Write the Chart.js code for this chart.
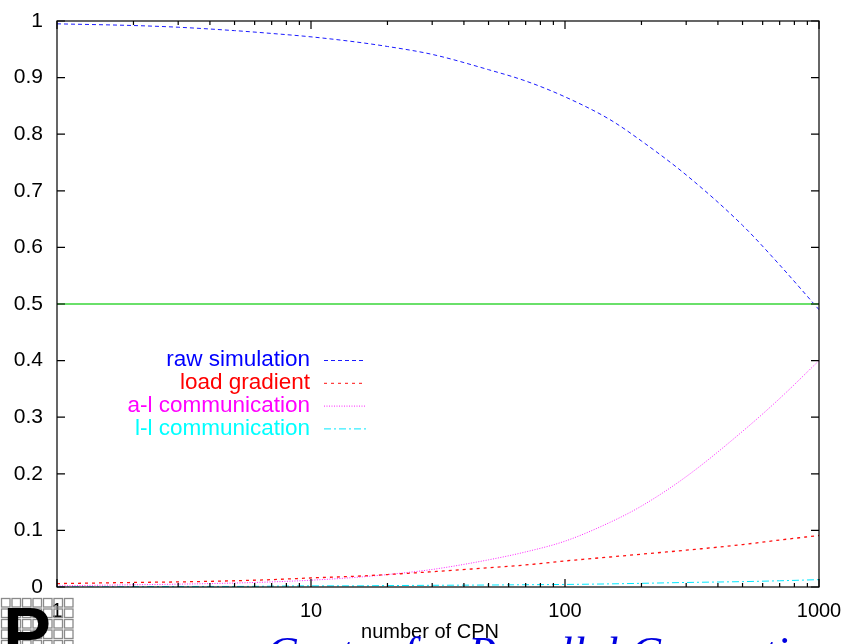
<!DOCTYPE html>
<html>
<head>
<meta charset="utf-8">
<script src="https://cdn.jsdelivr.net/npm/chart.js@4"></script>
<style>
  html, body { margin: 0; padding: 0; background: #fff; }
  canvas { display: block; }
</style>
</head>
<body>
<canvas id="chart" width="846" height="644"></canvas>
<script>
// number of CPN (x values shared by all curves)
const cpn = [1, 2, 3, 5, 7, 10, 15, 20, 30, 50, 70, 100, 150, 200, 300, 500, 700, 1000];

const rawSimulation = [0.995, 0.992, 0.989, 0.983, 0.978, 0.972, 0.963, 0.955, 0.941, 0.914, 0.894, 0.866, 0.826, 0.788, 0.728, 0.639, 0.569, 0.490];
const loadGradient = [0.006, 0.008, 0.009, 0.011, 0.013, 0.016, 0.019, 0.022, 0.027, 0.034, 0.039, 0.046, 0.053, 0.058, 0.065, 0.075, 0.083, 0.091];
const alCommunication = [0.002, 0.004, 0.005, 0.007, 0.009, 0.012, 0.017, 0.022, 0.031, 0.048, 0.062, 0.081, 0.114, 0.143, 0.195, 0.275, 0.333, 0.400];
const llCommunication = [0.000, 0.0005, 0.001, 0.001, 0.0015, 0.002, 0.002, 0.0025, 0.003, 0.0035, 0.004, 0.0045, 0.0055, 0.0065, 0.008, 0.0095, 0.011, 0.013];
const halfLine = [0.5, 0.5];
const halfLineX = [1, 1000];

const xTickLabels = [1, 10, 100, 1000];
const xMinorTicks = [2, 3, 4, 5, 6, 7, 8, 9, 20, 30, 40, 50, 60, 70, 80, 90, 200, 300, 400, 500, 600, 700, 800, 900];

const pts = (xs, ys) => xs.map((x, i) => ({ x: x, y: ys[i] }));

const series = [
  { label: 'raw simulation', color: '#1a1aff', text: '#0000ff', dash: [4, 3], data: rawSimulation },
  { label: 'load gradient', color: '#ff1010', text: '#ff0000', dash: [3, 4], data: loadGradient },
  { label: 'a-l communication', color: '#ff20ff', text: '#ff00ff', dash: [1, 1.5], data: alCommunication },
  { label: 'l-l communication', color: '#00e8ff', text: '#00ffff', dash: [7, 3, 2, 3], data: llCommunication },
];

const font = { family: '"Liberation Sans", Arial, sans-serif', size: 21 };

// gnuplot-like frame, inward ticks, legend and page decorations
const decorations = {
  id: 'decorations',
  afterDraw(chart) {
    const { ctx, chartArea: a, scales: { x, y } } = chart;
    ctx.save();
    ctx.strokeStyle = '#000';
    ctx.lineWidth = 1.2;
    ctx.strokeRect(a.left, a.top, a.right - a.left, a.bottom - a.top);

    ctx.beginPath();
    y.ticks.forEach(t => {
      const py = y.getPixelForValue(t.value);
      ctx.moveTo(a.left, py); ctx.lineTo(a.left + 8, py);
      ctx.moveTo(a.right, py); ctx.lineTo(a.right - 8, py);
    });
    xTickLabels.forEach(v => {
      const px = x.getPixelForValue(v);
      ctx.moveTo(px, a.bottom); ctx.lineTo(px, a.bottom - 8);
      ctx.moveTo(px, a.top); ctx.lineTo(px, a.top + 8);
    });
    xMinorTicks.forEach(v => {
      const px = x.getPixelForValue(v);
      ctx.moveTo(px, a.bottom); ctx.lineTo(px, a.bottom - 4);
      ctx.moveTo(px, a.top); ctx.lineTo(px, a.top + 4);
    });
    ctx.stroke();

    // legend
    ctx.font = '22.5px "Liberation Sans", Arial, sans-serif';
    ctx.textAlign = 'right';
    ctx.textBaseline = 'middle';
    series.forEach((s, i) => {
      const ly = 360 + i * 22.8;
      ctx.fillStyle = s.text;
      ctx.fillText(s.label, 310, ly);
      ctx.strokeStyle = s.color;
      ctx.lineWidth = 1;
      ctx.setLineDash(s.dash);
      ctx.beginPath();
      ctx.moveTo(324, ly + 0.5); ctx.lineTo(366, ly + 0.5);
      ctx.stroke();
    });
    ctx.setLineDash([]);

    // axis title
    ctx.fillStyle = '#000';
    ctx.textAlign = 'center';
    ctx.font = '20px "Liberation Sans", Arial, sans-serif';
    ctx.fillText('number of CPN', (a.left + a.right) / 2 - 8, 632);

    // logo grid
    ctx.strokeStyle = '#8a8a8a';
    ctx.lineWidth = 1.3;
    for (let i = 0; i < 7; i++) {
      for (let j = 0; j < 5; j++) {
        ctx.strokeRect(1.5 + i * 10.5, 598.5 + j * 10.5, 8.5, 8.5);
      }
    }
    ctx.fillStyle = '#000';
    ctx.textAlign = 'left';
    ctx.textBaseline = 'alphabetic';
    ctx.font = 'bold 72px "Liberation Sans", Arial, sans-serif';
    ctx.fillText('P', 3, 658);

    // footer text, cut off by the page edge
    ctx.fillStyle = '#0000e0';
    ctx.font = 'italic 46px "Liberation Serif", "Times New Roman", serif';
    ctx.fillText('Center for Parallel Computing', 266, 669);
    ctx.restore();
  }
};

const noOverflow = s => {
  s.paddingLeft = 0; s.paddingRight = 0; s.paddingTop = 0; s.paddingBottom = 0;
};

new Chart(document.getElementById('chart'), {
  type: 'line',
  data: {
    datasets: [
      { data: pts(halfLineX, halfLine), borderColor: '#6ae06a', borderWidth: 2, pointRadius: 0 },
      ...series.map(s => ({
        label: s.label,
        data: pts(cpn, s.data),
        borderColor: s.color,
        borderWidth: s.label === 'load gradient' ? 1.3 : 1,
        borderDash: s.dash,
        pointRadius: 0,
        cubicInterpolationMode: 'monotone',
      })),
    ],
  },
  options: {
    responsive: false,
    animation: false,
    parsing: false,
    layout: { padding: { top: 21, right: 27, left: 0, bottom: 0 } },
    plugins: { legend: { display: false }, tooltip: { enabled: false } },
    scales: {
      x: {
        type: 'logarithmic',
        min: 1,
        max: 1000,
        grid: { display: false, drawTicks: false },
        border: { display: false },
        ticks: { font: { family: font.family, size: 20 }, color: '#000', padding: 12, maxRotation: 0, autoSkip: false, callback: v => String(v) },
        afterBuildTicks: s => { s.ticks = xTickLabels.map(v => ({ value: v })); },
        afterFit: s => { s.height = 57; noOverflow(s); },
      },
      y: {
        min: 0,
        max: 1,
        grid: { display: false, drawTicks: false },
        border: { display: false },
        ticks: { font: font, color: '#000', padding: 14, stepSize: 0.1, callback: v => String(+v.toFixed(1)) },
        afterFit: s => { s.width = 57; noOverflow(s); },
      },
    },
  },
  plugins: [decorations],
});
</script>
</body>
</html>
